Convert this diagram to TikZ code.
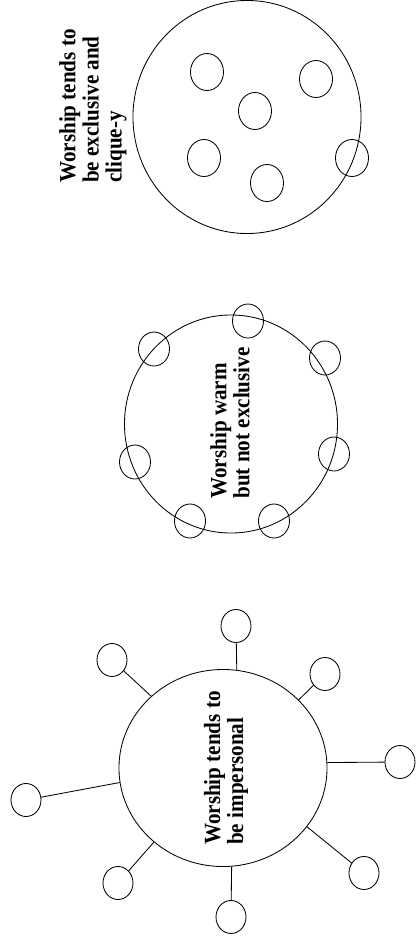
\documentclass[tikz,border=0pt]{standalone}
\usepackage{fontspec}
\setmainfont{Liberation Serif}
\usetikzlibrary{shapes.geometric}

\begin{document}
\begin{tikzpicture}[x=0.025cm, y=-0.025cm, line width=0.6pt,
    group/.style={draw, ellipse, inner sep=0pt},
    member/.style={draw, ellipse, inner sep=0pt},
    groupnote/.style={rotate=90, yscale=1.1, align=left, inner sep=0pt, font=\bfseries\fontsize{15}{14.9}\selectfont}]
    \useasboundingbox (0,0) rectangle (416,949);
    \node[group, minimum width=5.7cm, minimum height=5.825cm] (excl) at (247,117) {};
    \foreach \n/\x/\y in {a/207/72, b/316/79, c/255/111, d/204/158, e/267/183, f/352/158}
        {\node[member, minimum width=0.825cm, minimum height=0.925cm] (excl-\n) at (\x,\y) {};}
    \node[groupnote] (excl-text) at (93,106) {Worship tends to\\be exclusive and\\clique-y};
    \node[group, minimum width=5.325cm, minimum height=5.45cm] (warm) at (231,424) {};
    \foreach \n/\x/\y in {a/248/321, b/154/349, c/325/358, d/135/462, e/334/454, f/190/521, g/274/521}
        {\node[member, minimum width=0.775cm, minimum height=0.85cm] (warm-\n) at (\x,\y) {};}
    \node[groupnote] (warm-text) at (230,423) {Worship warm\\but not exclusive};
    \node[group, minimum width=5.2cm, minimum height=4.925cm] (imp) at (223,768) {};
    \foreach \n/\x/\y/\a in {t/236/626/82, ul/112/660/135, ur/325/674/42, r/400/762/3, l/26/800/188, lr/364/873/-35, ll/118/883/-133, b/231/917/-85}
        {\node[member, minimum width=0.75cm, minimum height=0.825cm] (imp-\n) at (\x,\y) {};
         \draw (imp-\n) -- (imp.\a);}
    \node[groupnote] (imp-text) at (226,768) {Worship tends to\\be impersonal};
\end{tikzpicture}
\end{document}
